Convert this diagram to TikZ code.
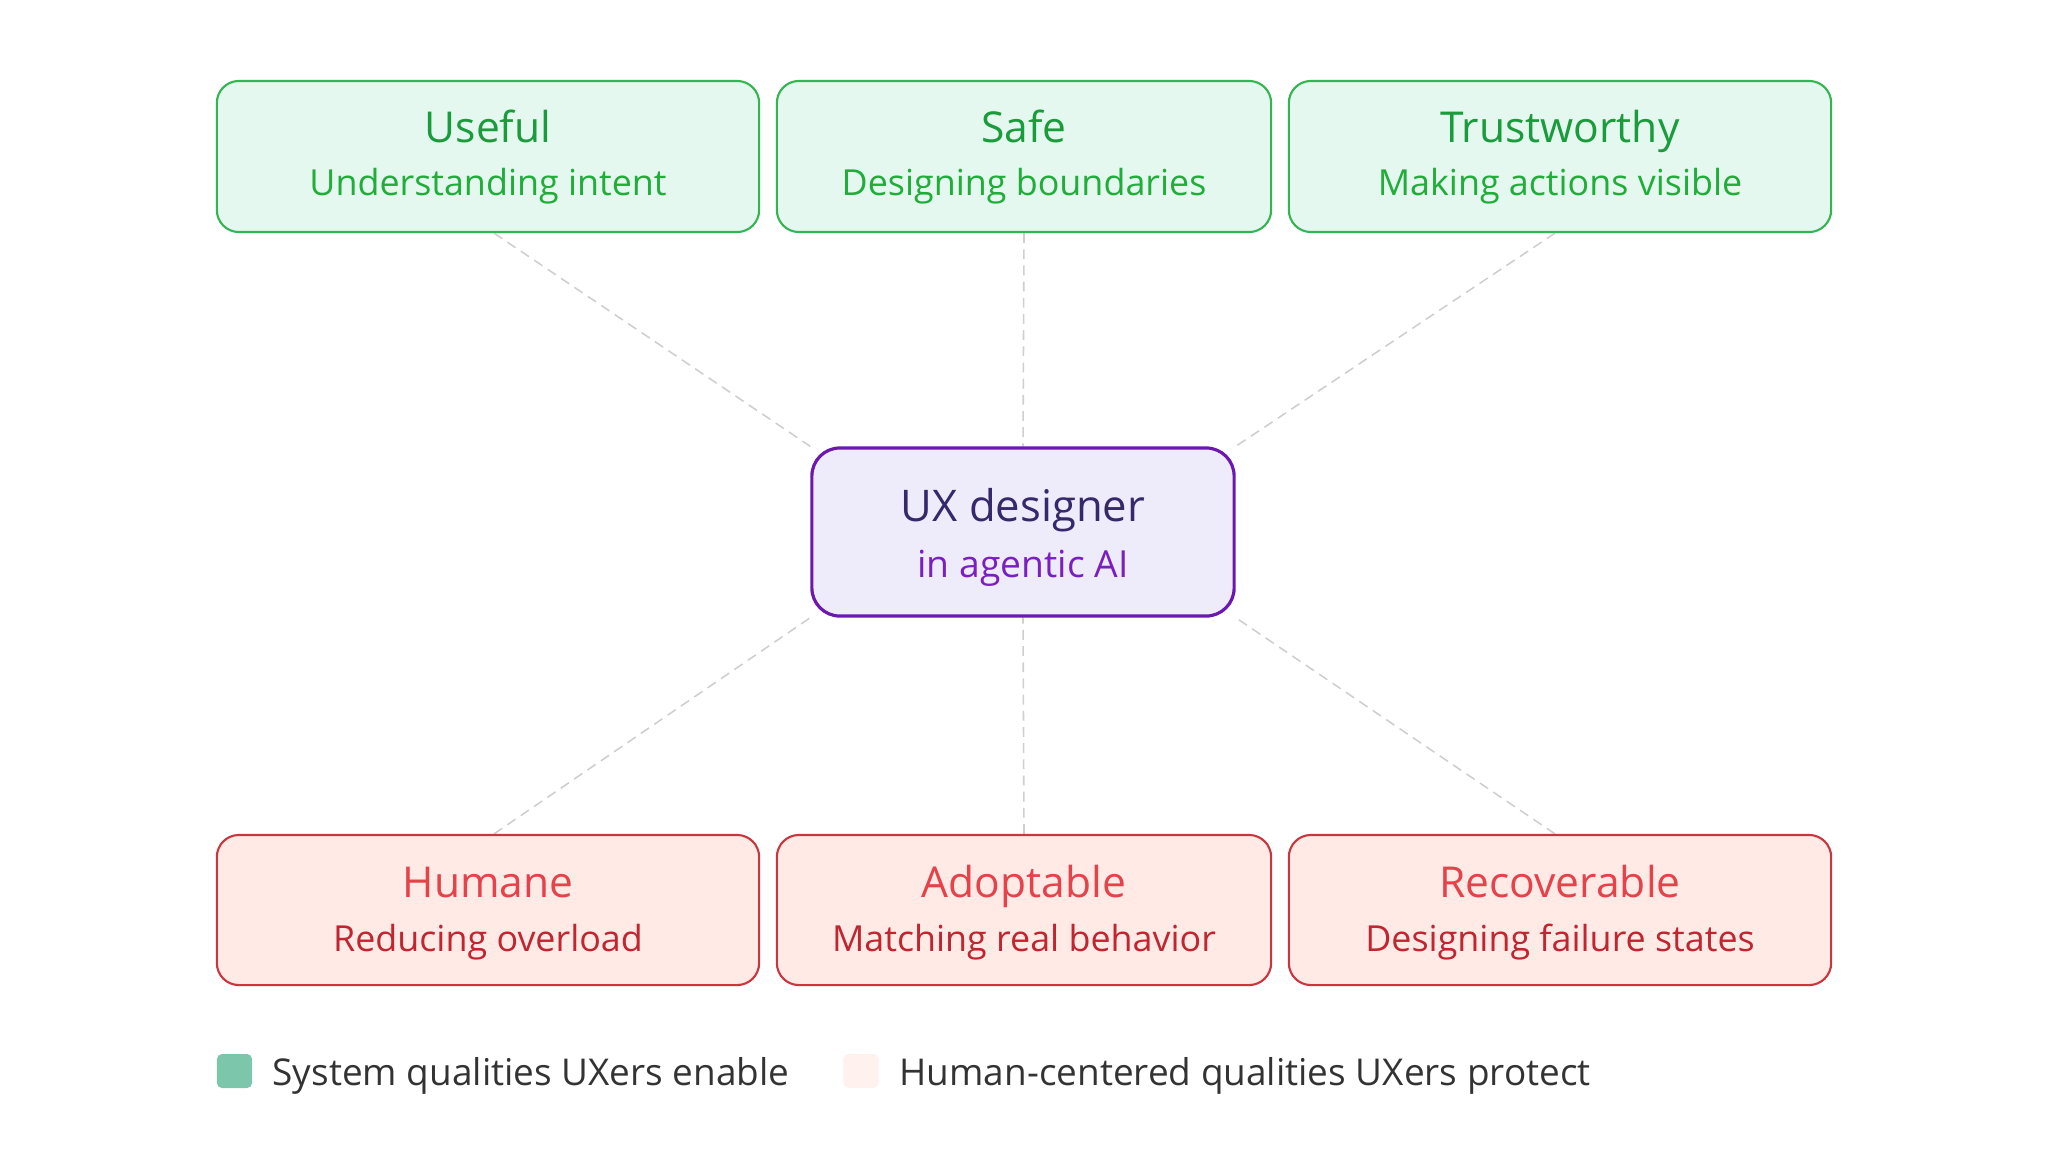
\documentclass[tikz,border=0pt]{standalone}
\usepackage{fontspec}
\setmainfont{Open Sans}
\usetikzlibrary{backgrounds}
\definecolor{gfill}{HTML}{E5F8EF}
\definecolor{gdraw}{HTML}{33B552}
\definecolor{gtitle}{HTML}{1A9B3C}
\definecolor{gsub}{HTML}{20AD3A}
\definecolor{rfill}{HTML}{FFEAE6}
\definecolor{rdraw}{HTML}{C9363E}
\definecolor{rtitle}{HTML}{E5424A}
\definecolor{rsub}{HTML}{C02530}
\definecolor{cfill}{HTML}{EEEBFB}
\definecolor{cdraw}{HTML}{6B17B0}
\definecolor{ctitle}{HTML}{35286B}
\definecolor{csub}{HTML}{7A1FC0}
\definecolor{legA}{HTML}{7CC6AC}
\definecolor{legB}{HTML}{FFF1EE}
\definecolor{legtext}{HTML}{333333}
\definecolor{linkc}{HTML}{CFCFCF}
\tikzset{
  gbox/.style={draw=gdraw, fill=gfill, line width=0.6pt, rounded corners=0.22cm, minimum height=1.51cm, inner sep=0pt},
  rbox/.style={draw=rdraw, fill=rfill, line width=0.6pt, rounded corners=0.22cm, minimum height=1.50cm, inner sep=0pt},
  cbox/.style={draw=cdraw, fill=cfill, line width=0.9pt, rounded corners=0.28cm, minimum width=4.22cm, minimum height=1.68cm, inner sep=0pt},
  ttl/.style={anchor=base, inner sep=0pt, font=\fontsize{12.1pt}{14pt}\selectfont},
  subt/.style={anchor=base, inner sep=0pt, font=\fontsize{10.2pt}{12pt}\selectfont},
  legtxt/.style={anchor=base west, inner sep=0pt, text=legtext, font=\fontsize{10.5pt}{12pt}\selectfont},
  link/.style={draw=linkc, line width=0.45pt, dash pattern=on 2.8pt off 1.8pt},
  legsq/.style={minimum width=0.35cm, minimum height=0.34cm, inner sep=0pt, rounded corners=0.05cm}
}
\begin{document}
\begin{tikzpicture}[x=0.01cm, y=-0.01cm]
\useasboundingbox (0,0) rectangle (2048,1175);
% top boxes
\node[gbox, minimum width=5.42cm] (useful) at (488,156.5) {};
\node[gbox, minimum width=4.94cm] (safe) at (1024,156.5) {};
\node[gbox, minimum width=5.42cm] (trust) at (1560,156.5) {};
\node[ttl, text=gtitle] (usefulT) at (488,142) {Useful};
\node[subt, text=gsub] (usefulS) at (488,195) {Understanding intent};
\node[ttl, text=gtitle] (safeT) at (1024,142) {Safe};
\node[subt, text=gsub] (safeS) at (1024,195) {Designing boundaries};
\node[ttl, text=gtitle] (trustT) at (1560,142) {Trustworthy};
\node[subt, text=gsub] (trustS) at (1560,195) {Making actions visible};
% center
\node[cbox] (ux) at (1023,532) {};
\node[ttl, text=ctitle, font=\fontsize{12.4pt}{14pt}\selectfont] (uxT) at (1023,521) {UX designer};
\node[subt, text=csub, font=\fontsize{10.6pt}{12pt}\selectfont] (uxS) at (1023,577) {in agentic AI};
% bottom boxes
\node[rbox, minimum width=5.42cm] (humane) at (488,910) {};
\node[rbox, minimum width=4.94cm] (adopt) at (1024,910) {};
\node[rbox, minimum width=5.42cm] (recov) at (1560,910) {};
\node[ttl, text=rtitle] (humaneT) at (488,897) {Humane};
\node[subt, text=rsub] (humaneS) at (488,951) {Reducing overload};
\node[ttl, text=rtitle] (adoptT) at (1024,897) {Adoptable};
\node[subt, text=rsub] (adoptS) at (1024,951) {Matching real behavior};
\node[ttl, text=rtitle] (recovT) at (1560,897) {Recoverable};
\node[subt, text=rsub] (recovS) at (1560,951) {Designing failure states};
% connectors
\begin{scope}[on background layer]
\draw[link] ([xshift=0.06cm]useful.south) -- (ux.north west);
\draw[link] (safe.south) -- (ux.north);
\draw[link] ([xshift=-0.05cm]trust.south) -- (ux.north east);
\draw[link] ([xshift=0.06cm]humane.north) -- (ux.south west);
\draw[link] (adopt.north) -- (ux.south);
\draw[link] ([xshift=-0.05cm]recov.north) -- (ux.south east);
\end{scope}
% legend
\node[legsq, fill=legA] (legsqA) at (234.5,1071) {};
\node[legtxt] (legA) at (272,1085) {System qualities UXers enable};
\node[legsq, fill=legB] (legsqB) at (861,1071) {};
\node[legtxt] (legB) at (899,1085) {Human-centered qualities UXers protect};
\end{tikzpicture}
\end{document}
